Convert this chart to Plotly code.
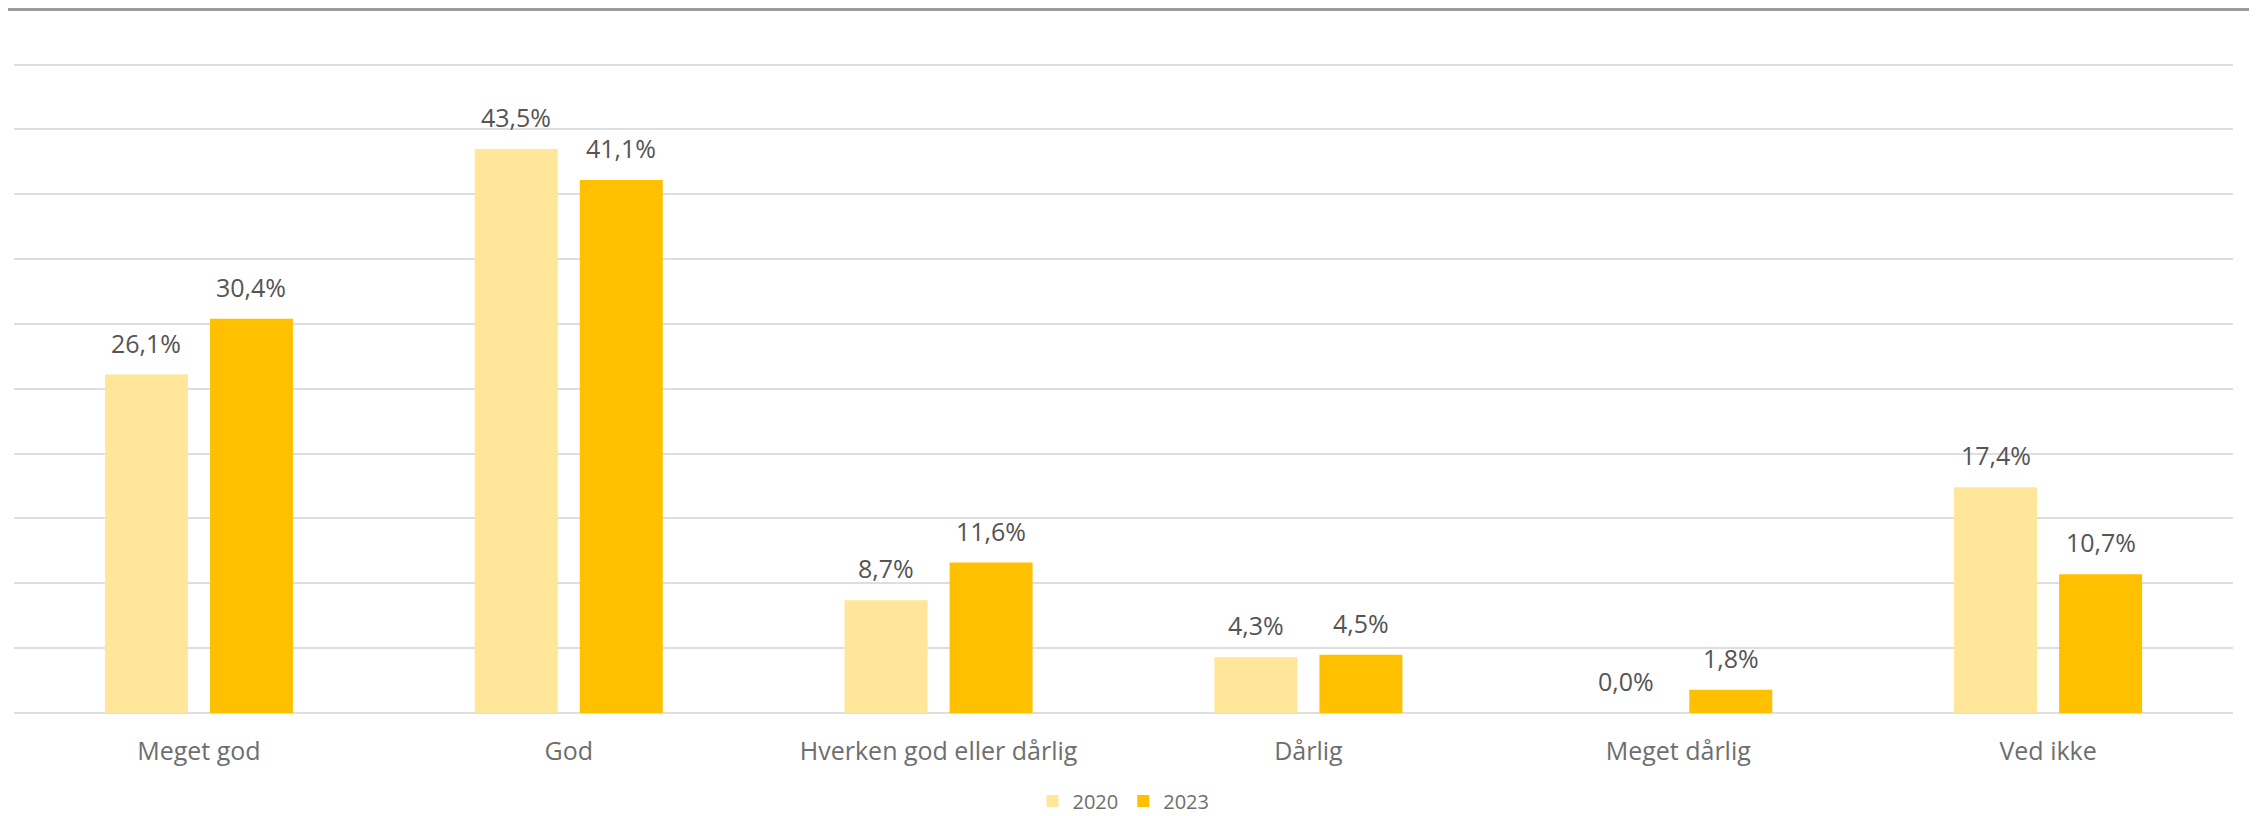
import plotly.graph_objects as go

# survey answers, share of respondents (%)
categories = ['Meget god', 'God', 'Hverken god eller dårlig', 'Dårlig', 'Meget dårlig', 'Ved ikke']
years = ['2020', '2023']
vals_2020 = [26.1, 43.5, 8.7, 4.3, 0.0, 17.4]
vals_2023 = [30.4, 41.1, 11.6, 4.5, 1.8, 10.7]
colors = ['#FFE699', '#FFC000']

# page body adds 8px margin, so the figure is a bit smaller than the window
W, H = 2249, 808
ML, MR, MT, MB = 6, 24, 54, 103
YMAX = 50.2
BARGAP = 0.432
FONT = 'Open Sans'

fig = go.Figure()
for yr, vals, col in zip(years, [vals_2020, vals_2023], colors):
    fig.add_trace(go.Bar(x=categories, y=vals, name=yr, marker=dict(color=col, line=dict(width=0))))

# data labels above each bar
off = (1 - BARGAP) / 4
for k, vals in enumerate([vals_2020, vals_2023]):
    for i, v in enumerate(vals):
        fig.add_annotation(x=i + (off if k else -off), y=v, text=f'{v:.1f}%'.replace('.', ','),
                           showarrow=False, yanchor='bottom', yshift=13,
                           font=dict(family=FONT, size=25, color='#555555'))

# gray rule at top of chart frame
pw = W - ML - MR
ph = H - MT - MB
ytop = 1 + (MT - 1.5) / ph
fig.add_shape(type='line', xref='paper', yref='paper',
              x0=-ML / pw, x1=1 + MR / pw, y0=ytop, y1=ytop,
              line=dict(color='#9b9b9b', width=3))

fig.update_layout(
    width=W, height=H,
    margin=dict(l=ML, r=MR, t=MT, b=MB, autoexpand=False),
    paper_bgcolor='white', plot_bgcolor='white',
    barmode='group', bargap=BARGAP, bargroupgap=0.21,
    showlegend=True,
    legend=dict(orientation='h', x=0.5, xanchor='center', y=-88 / ph, yanchor='middle',
                bgcolor='rgba(0,0,0,0)',
                font=dict(family=FONT, size=20, color='#6e6e6e'), itemwidth=30),
    font=dict(family=FONT),
)
fig.update_xaxes(tickfont=dict(family=FONT, size=25, color='#6e6e6e'), showline=False,
                 ticks='', ticklabelstandoff=21)
fig.update_yaxes(range=[0, YMAX], dtick=5, showticklabels=False, showgrid=True,
                 gridcolor='#dedede', gridwidth=2, zeroline=True, zerolinecolor='#dedede',
                 zerolinewidth=2)

fig.write_html('out.html')
